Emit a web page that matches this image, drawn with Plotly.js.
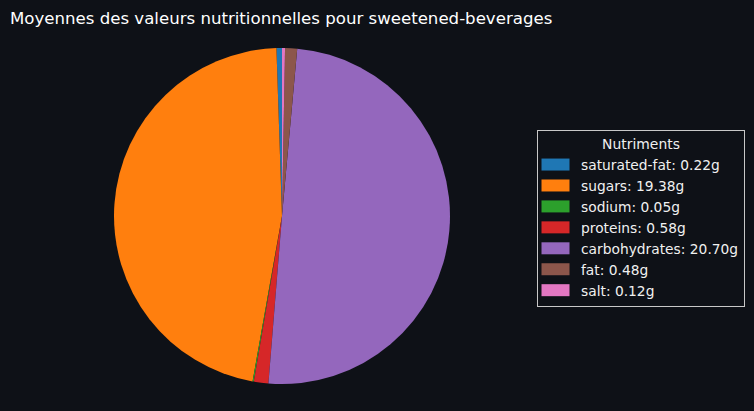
<!DOCTYPE html>
<html>
<head>
<meta charset="utf-8">
<script src="https://cdn.plot.ly/plotly-3.0.1.min.js"></script>
<style>html,body{margin:0;padding:0;background:#0e1117;}#chart{width:754px;height:411px;}</style>
</head>
<body>
<div id="chart"></div>
<script>
const nutrients = ["saturated-fat", "sugars", "sodium", "proteins", "carbohydrates", "fat", "salt"];
const values = [0.22, 19.38, 0.05, 0.58, 20.70, 0.48, 0.12];
const colors = ["#1f77b4", "#ff7f0e", "#2ca02c", "#d62728", "#9467bd", "#8c564b", "#e377c2"];
const legendLabels = nutrients.map((n, i) => n + ": " + values[i].toFixed(2) + "g");

const W = 754, H = 411;
const cx = 282, cy = 216, r = 168;
const total = values.reduce((a, b) => a + b, 0);

const trace = {
  type: "pie",
  labels: legendLabels,
  values: values,
  sort: false,
  direction: "counterclockwise",
  // Plotly keeps the first slice on the clockwise side of 12 o'clock; shift so it starts at 12 going left
  rotation: -values[0] / total * 360,
  textinfo: "none",
  hoverinfo: "skip",
  marker: {colors: colors, line: {width: 0}},
  domain: {x: [(cx - r) / W, (cx + r) / W], y: [(H - cy - r) / H, (H - cy + r) / H]}
};

const layout = {
  width: W, height: H,
  paper_bgcolor: "#0e1117",
  plot_bgcolor: "#0e1117",
  margin: {l: 0, r: 0, t: 0, b: 0, autoexpand: false},
  font: {family: "DejaVu Sans", color: "#ffffff"},
  title: {
    text: "Moyennes des valeurs nutritionnelles pour sweetened-beverages",
    font: {family: "DejaVu Sans", size: 16.6, color: "#ffffff"},
    x: 10 / W, xanchor: "left", xref: "paper",
    y: 1 - 18 / H, yanchor: "middle", yref: "paper"
  },
  showlegend: true,
  legend: {
    x: 537 / W, xanchor: "left",
    y: 1 - 130 / H, yanchor: "top",
    bgcolor: "#0e1117",
    bordercolor: "#c8c8c8",
    borderwidth: 1,
    itemwidth: 33,
    font: {family: "DejaVu Sans", size: 13.8, color: "#f0f0f0"},
    title: {text: "Nutriments", side: "top center", font: {family: "DejaVu Sans", size: 13.9, color: "#f0f0f0"}},
    traceorder: "normal"
  }
};

Plotly.newPlot("chart", [trace], layout, {displayModeBar: false, staticPlot: true}).then(gd => {
  gd.querySelectorAll(".legend .legendpoints path").forEach(p => {
    p.setAttribute("d", "M10,6H-18V-6H10Z");
  });
});
</script>
</body>
</html>
